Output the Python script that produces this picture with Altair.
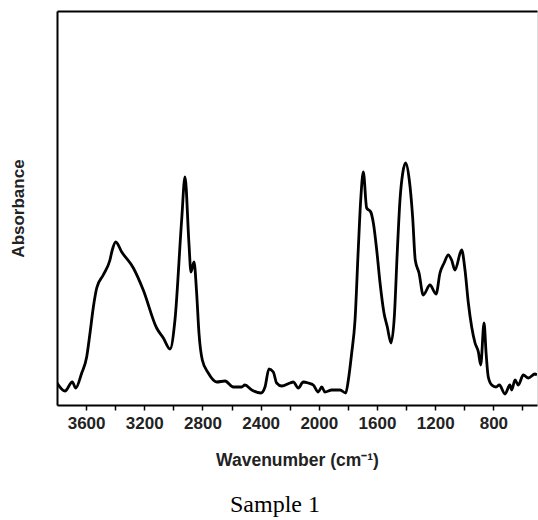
import altair as alt
import pandas as pd

wavenumber = [3800, 3745, 3695, 3671, 3630, 3596, 3573, 3550, 3527, 3482, 3436, 3420, 3396,
              3355, 3275, 3207, 3115, 3069, 3023, 2989, 2943, 2920, 2893, 2879, 2858, 2840,
              2824, 2801, 2760, 2702, 2645, 2588, 2531, 2508, 2461, 2398, 2370, 2343, 2313,
              2290, 2255, 2198, 2176, 2141, 2107, 2072, 2038, 2004, 1980, 1958, 1911, 1854,
              1815, 1797, 1774, 1751, 1729, 1712, 1694, 1671, 1643, 1625, 1602, 1579, 1552,
              1529, 1504, 1481, 1460, 1442, 1423, 1403, 1378, 1355, 1337, 1311, 1282, 1236,
              1194, 1167, 1139, 1110, 1087, 1064, 1018, 995, 972, 949, 926, 903, 887, 864,
              850, 835, 811, 782, 759, 720, 686, 674, 651, 629, 594, 560, 514, 500]
absorbance = [0.22, 0.14, 0.23, 0.17, 0.32, 0.48, 0.72, 0.98, 1.17, 1.30, 1.45, 1.55, 1.63,
              1.53, 1.37, 1.15, 0.77, 0.67, 0.56, 0.85, 1.85, 2.28, 1.62, 1.33, 1.43, 1.12,
              0.72, 0.45, 0.32, 0.23, 0.24, 0.18, 0.18, 0.20, 0.15, 0.12, 0.18, 0.36, 0.33,
              0.22, 0.19, 0.22, 0.23, 0.17, 0.23, 0.22, 0.20, 0.13, 0.18, 0.13, 0.15, 0.15,
              0.12, 0.25, 0.52, 0.85, 1.55, 2.05, 2.33, 1.97, 1.93, 1.82, 1.55, 1.22, 0.92,
              0.78, 0.62, 0.88, 1.55, 2.05, 2.32, 2.42, 2.25, 1.88, 1.45, 1.32, 1.10, 1.20,
              1.11, 1.32, 1.42, 1.50, 1.45, 1.35, 1.55, 1.35, 1.02, 0.78, 0.62, 0.53, 0.40, 0.82,
              0.52, 0.28, 0.20, 0.18, 0.20, 0.11, 0.20, 0.15, 0.25, 0.20, 0.30, 0.27, 0.31, 0.30]

tick_values = list(range(3600, 500, -200))
x_domain = [3800, 500]
y_domain = [0, 3.94]

df = pd.DataFrame({"wavenumber": wavenumber, "absorbance": absorbance})

sans = "Liberation Sans"

line = alt.Chart(df).mark_line(
    color="black", strokeWidth=2.8, interpolate="monotone", strokeJoin="round", clip=True
).encode(
    x=alt.X("wavenumber:Q",
            scale=alt.Scale(domain=x_domain, nice=False, zero=False),
            axis=alt.Axis(
                title="Wavenumber (cm⁻¹)",
                values=tick_values,
                labelExpr="datum.value % 400 == 0 ? datum.value : ''",
                grid=False, domainColor="black", domainWidth=2,
                tickColor="black", tickWidth=1.5, tickSize=5,
                labelFont=sans, labelFontWeight="bold", labelFontSize=17, labelColor="#222",
                labelPadding=5, labelFlush=False,
                titleFont=sans, titleFontWeight="bold", titleFontSize=17.5, titleColor="#222",
                titlePadding=20,
            )),
    y=alt.Y("absorbance:Q",
            scale=alt.Scale(domain=y_domain, nice=False),
            axis=alt.Axis(
                title="Absorbance", labels=False, ticks=False, grid=False,
                domainColor="black", domainWidth=2,
                titleFont=sans, titleFontWeight="bold", titleFontSize=17, titleColor="#222",
                titlePadding=30,
            )),
    order=alt.Order("wavenumber:Q", sort="descending"),
)

top_axis = alt.Chart(df).mark_line(opacity=0).encode(
    x=alt.X("wavenumber:Q",
            scale=alt.Scale(domain=x_domain, nice=False, zero=False),
            axis=alt.Axis(orient="top", title=None, labels=False, ticks=False, grid=False,
                          domainColor="black", domainWidth=2)),
    y=alt.Y("absorbance:Q", scale=alt.Scale(domain=y_domain, nice=False)),
)

chart = alt.layer(line, top_axis).resolve_axis(x="independent").properties(
    width=480, height=394,
    autosize=alt.AutoSizeParams(type="none"),
    padding={"left": 57, "top": 11, "right": 1, "bottom": 115},
    title=alt.TitleParams(
        text="Sample 1", orient="bottom", font="Liberation Serif", fontSize=24,
        fontWeight="normal", color="black", anchor="middle", dx=-22, offset=24,
    ),
).configure_view(stroke="#999", strokeWidth=1).configure(background="white")

chart.save("out.html", embed_options={"renderer": "svg", "actions": False})
